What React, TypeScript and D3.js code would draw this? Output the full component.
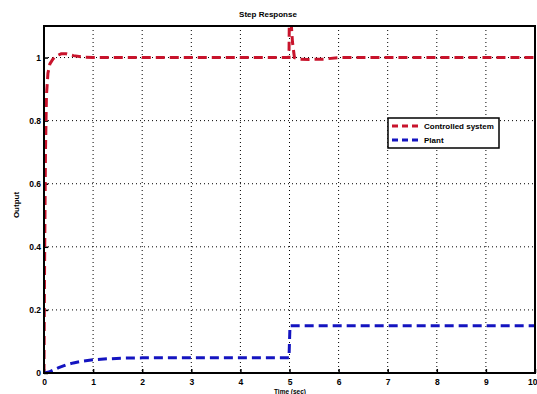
import * as d3 from "d3";
import { useEffect, useRef } from "react";

// time points (sec) and the two step responses
const ctrlTime = [0, 0.01, 0.03, 0.05, 0.08, 0.12, 0.18, 0.25, 0.35, 0.45, 0.6, 0.8, 1, 2, 3, 4, 4.99, 5, 5.03, 5.06, 5.1, 5.2, 5.4, 5.7, 6, 7, 8, 9, 10];
const ctrlValue = [0, 0.3, 0.7, 0.88, 0.95, 0.98, 0.995, 1.005, 1.012, 1.012, 1.006, 1.001, 1, 1, 1, 1, 1, 1.2, 1.12, 1.05, 1.0, 0.995, 0.994, 0.995, 1, 1, 1, 1, 1];
const plantTime = [0, 0.1, 0.2, 0.3, 0.45, 0.6, 0.8, 1, 1.3, 1.6, 2, 3, 4, 4.99, 5, 5.01, 6, 7, 8, 9, 10];
const plantValue = [0, 0.003, 0.01, 0.017, 0.026, 0.032, 0.038, 0.042, 0.045, 0.047, 0.048, 0.048, 0.048, 0.048, 0.1, 0.15, 0.15, 0.15, 0.15, 0.15, 0.15];
const xTicks = [0, 1, 2, 3, 4, 5, 6, 7, 8, 9, 10];
const yTicks = [0, 0.2, 0.4, 0.6, 0.8, 1];
const seriesNames = ["Controlled system", "Plant"];
const seriesColors = ["#c8142c", "#1414c0"];

export default function App() {
  const ref = useRef<SVGSVGElement>(null);

  useEffect(() => {
    const svg = d3.select(ref.current);
    svg.selectAll("*").remove();

    const left = 44, right = 535, top = 26, bottom = 373;
    const x = d3.scaleLinear().domain([0, 10]).range([left, right]);
    const y = d3.scaleLinear().domain([0, 1.1]).range([bottom, top]);

    svg.append("rect").attr("width", 537).attr("height", 394).attr("fill", "#fff");

    svg.append("clipPath").attr("id", "plotclip")
      .append("rect").attr("x", left).attr("y", top)
      .attr("width", right - left).attr("height", bottom - top);

    // grid
    const grid = svg.append("g").attr("stroke", "#000").attr("stroke-width", 1)
      .attr("stroke-dasharray", "1,3");
    grid.selectAll("line.vx").data(xTicks.slice(1, -1)).join("line")
      .attr("x1", (d) => x(d)).attr("x2", (d) => x(d))
      .attr("y1", top).attr("y2", bottom);
    grid.selectAll("line.hy").data(yTicks.slice(1)).join("line")
      .attr("x1", left).attr("x2", right)
      .attr("y1", (d) => y(d)).attr("y2", (d) => y(d));

    const font = "Liberation Sans, Arial, sans-serif";

    // axes
    const xAxis = svg.append("g").attr("transform", `translate(0,${bottom})`)
      .call(d3.axisBottom(x).tickValues(xTicks).tickSize(-4).tickPadding(6).tickFormat(d3.format("d")));
    const yAxis = svg.append("g").attr("transform", `translate(${left},0)`)
      .call(d3.axisLeft(y).tickValues(yTicks).tickSize(-4).tickPadding(3).tickFormat((d) => String(d)));
    [xAxis, yAxis].forEach((a) => {
      a.select(".domain").remove();
      a.selectAll("line").attr("stroke", "#000").attr("stroke-width", 1.5);
      a.selectAll("text").attr("font-family", font).attr("font-size", 8.5)
        .attr("font-weight", "bold").attr("fill", "#000");
    });
    // last x label sits on the window edge: keep it inside
    xAxis.selectAll<SVGTextElement, number>("text")
      .filter((d) => d === 10)
      .attr("text-anchor", "end").attr("dx", 2);

    // lines
    const line = d3.line<[number, number]>().x((d) => x(d[0])).y((d) => y(d[1]));
    const plotG = svg.append("g").attr("clip-path", "url(#plotclip)");
    const series = [
      d3.zip(ctrlTime, ctrlValue) as [number, number][],
      d3.zip(plantTime, plantValue) as [number, number][],
    ];
    series.forEach((s, i) => {
      plotG.append("path").attr("d", line(s)).attr("fill", "none")
        .attr("stroke", seriesColors[i]).attr("stroke-width", 3)
        .attr("stroke-dasharray", "9,5");
    });

    // box
    svg.append("rect").attr("x", left).attr("y", top)
      .attr("width", right - left).attr("height", bottom - top)
      .attr("fill", "none").attr("stroke", "#000").attr("stroke-width", 2);

    // titles
    svg.append("text").attr("x", 268).attr("y", 17).attr("text-anchor", "middle")
      .attr("font-family", font).attr("font-size", 8).attr("font-weight", "bold")
      .text("Step Response");
    svg.append("text").attr("transform", "translate(19,205) rotate(-90)")
      .attr("text-anchor", "middle").attr("font-family", font).attr("font-size", 8)
      .attr("font-weight", "bold").text("Output");
    svg.append("text").attr("x", 290).attr("y", 393.5).attr("text-anchor", "middle")
      .attr("font-family", font).attr("font-size", 6.5).attr("font-weight", "bold")
      .text("Time (sec)");

    // legend
    const lg = svg.append("g");
    lg.append("rect").attr("x", 388).attr("y", 118).attr("width", 111).attr("height", 30)
      .attr("fill", "#fff").attr("stroke", "#000").attr("stroke-width", 1.5);
    seriesNames.forEach((n, i) => {
      const yy = 126 + i * 14;
      lg.append("line").attr("x1", 392).attr("x2", 422).attr("y1", yy).attr("y2", yy)
        .attr("stroke", seriesColors[i]).attr("stroke-width", 3).attr("stroke-dasharray", "6,4");
      lg.append("text").attr("x", 424).attr("y", yy + 3).attr("font-family", font)
        .attr("font-size", 8).attr("font-weight", "bold").text(n);
    });
  }, []);

  return (
    <div style={{ position: "fixed", left: 0, top: 0 }}>
      <svg ref={ref} width={537} height={394} style={{ display: "block" }} />
    </div>
  );
}
